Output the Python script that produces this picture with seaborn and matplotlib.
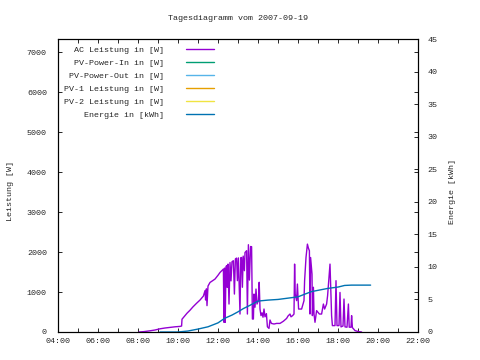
import seaborn as sns
import pandas as pd
import matplotlib.pyplot as plt
from matplotlib.lines import Line2D
from matplotlib.ticker import MultipleLocator

# AC power (hours of day, W)
ac_time = [8.05, 8.3, 8.6, 8.85, 9.1, 9.35, 9.6, 9.85, 10.1, 10.18, 10.2, 10.3, 10.45, 10.6,
           10.75, 10.93, 11.1, 11.27, 11.35, 11.38, 11.42, 11.45, 11.5, 11.6, 11.75, 11.85,
           12.0, 12.1, 12.2, 12.27, 12.3, 12.33, 12.36, 12.4, 12.43, 12.46, 12.5, 12.55, 12.6,
           12.65, 12.7, 12.77, 12.82, 12.87, 12.93, 12.97, 13.02, 13.1, 13.14, 13.18, 13.22,
           13.26, 13.32, 13.35, 13.43, 13.47, 13.52, 13.57, 13.63, 13.68, 13.72, 13.77, 13.8,
           13.85, 13.9, 13.95, 14.02, 14.06, 14.1, 14.15, 14.2, 14.25, 14.3, 14.35, 14.42,
           14.47, 14.55, 14.6, 14.67, 14.8, 14.93, 15.1, 15.27, 15.43, 15.5, 15.6, 15.65,
           15.73, 15.8, 15.83, 15.86, 15.93, 15.97, 16.03, 16.18, 16.3, 16.33, 16.4, 16.47,
           16.52, 16.57, 16.6, 16.63, 16.7, 16.72, 16.77, 16.8, 16.85, 16.93, 17.07, 17.18,
           17.27, 17.33, 17.43, 17.48, 17.55, 17.6, 17.63, 17.68, 17.72, 17.85, 17.9, 17.95,
           18.05, 18.1, 18.15, 18.25, 18.3, 18.35, 18.45, 18.52, 18.56, 18.65, 18.68, 18.72,
           18.85, 19.02, 19.18]
ac_power = [0, 10, 30, 50, 80, 100, 115, 130, 140, 150, 320, 380, 470, 545,
            630, 720, 800, 900, 1035, 800, 1080, 660, 1150, 1240, 1290, 1325,
            1420, 1490, 1540, 1575, 243, 1600, 243, 1630, 1660, 1120, 1700, 700, 1740,
            1280, 1760, 1785, 950, 1830, 1850, 1285, 1855, 450, 1860, 1865, 1120,
            1900, 1535, 1990, 2035, 450, 2185, 1300, 2140, 2135, 325, 325, 950,
            620, 1075, 700, 785, 1245, 575, 410, 480, 370, 575, 380, 460,
            130, 90, 300, 215, 200, 215, 215, 270, 340, 400, 450, 380,
            410, 450, 1700, 950, 785, 1200, 575, 575, 785, 1285, 1865, 2200,
            2100, 2035, 450, 1865, 1450, 410, 1120, 450, 243, 535, 450, 450,
            700, 575, 700, 910, 1370, 1700, 1200, 410, 160, 160, 1285, 160,
            160, 990, 128, 150, 825, 128, 120, 700, 120, 120, 410, 110,
            35, 10, 0]

# cumulative energy (hours of day, kWh)
energy_time = [9.1, 10.0, 10.5, 11.0, 11.5, 12.0, 12.33, 12.7, 13.0, 13.27, 13.6, 14.0,
               14.5, 15.0, 15.5, 16.0, 16.33, 16.67, 17.0, 17.5, 18.0, 18.33, 18.67, 19.63]
energy_kwh = [0, 0.0, 0.15, 0.45, 0.8, 1.4, 2.1, 2.6, 3.1, 3.6, 4.1, 4.75,
              4.9, 5.0, 5.2, 5.4, 5.8, 6.2, 6.4, 6.7, 6.9, 7.15, 7.2, 7.2]

series_labels = ['AC Leistung in [W]', 'PV-Power-In in [W]', 'PV-Power-Out in [W]',
                 'PV-1 Leistung in [W]', 'PV-2 Leistung in [W]', 'Energie in [kWh]']
series_colors = ['#9400d3', '#009e73', '#56b4e9', '#e69f00', '#f0e442', '#0072b2']
hour_labels = ['04:00', '06:00', '08:00', '10:00', '12:00', '14:00', '16:00', '18:00',
               '20:00', '22:00']

sns.set_style('ticks')
plt.rcParams['font.family'] = ['Liberation Mono', 'DejaVu Sans Mono']
plt.rcParams['font.size'] = 6

ac = pd.DataFrame({'t': ac_time, 'p': ac_power})
en = pd.DataFrame({'t': energy_time, 'e': energy_kwh})

fig = plt.figure(figsize=(4.8, 3.6), dpi=100)
ax = fig.add_axes([58 / 480, 1 - 332 / 360, 360 / 480, 293 / 360])
ax2 = ax.twinx()

sns.lineplot(data=ac, x='t', y='p', ax=ax, color=series_colors[0], linewidth=1.0,
             estimator=None, sort=False)
sns.lineplot(data=en, x='t', y='e', ax=ax2, color=series_colors[5], linewidth=1.0,
             estimator=None, sort=False)

ax.set_xlim(4, 22)
ax.set_ylim(0, 7335)
ax2.set_ylim(0, 45)
ax.set_xticks(range(4, 23, 2))
ax.set_xticklabels(hour_labels)
ax.xaxis.set_minor_locator(MultipleLocator(1))
ax.set_yticks(range(0, 7001, 1000))
ax2.set_yticks(range(0, 46, 5))

ax.tick_params(axis='x', which='both', direction='in', top=True, length=3, width=0.7, pad=4)
ax.tick_params(axis='y', direction='in', right=True, length=3, width=0.7, pad=8)
ax2.tick_params(axis='y', direction='in', length=3, width=0.7, pad=7)
for a in (ax, ax2):
    for s in a.spines.values():
        s.set_linewidth(0.8)
        s.set_color('black')

ax.set_xlabel('')
ax.set_ylabel('Leistung [W]', fontsize=6)
ax2.set_ylabel('Energie [kWh]', fontsize=6)
ax.yaxis.set_label_coords(-0.122, 0.48)
ax2.yaxis.set_label_coords(1.0875, 0.48)
ax.set_title('Tagesdiagramm vom 2007-09-19', pad=14, fontsize=6)

handles = [Line2D([], [], color=c, linewidth=1.0) for c in series_colors]
ax.legend(handles, series_labels, loc='upper left', bbox_to_anchor=(0.0, 0.997),
          frameon=False, markerfirst=False, handlelength=3.4, handletextpad=2.6,
          labelspacing=0.62, borderaxespad=0.3, fontsize=6)

fig.savefig('out.png', dpi=100)
